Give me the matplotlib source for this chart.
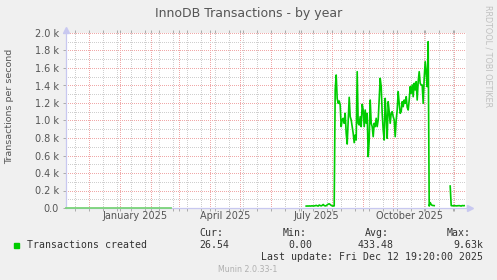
import pandas as pd
import matplotlib
matplotlib.use("Agg")
import matplotlib.pyplot as plt
import matplotlib.dates as mdates
import matplotlib.transforms as mtransforms
from matplotlib.ticker import FuncFormatter, MultipleLocator, FixedLocator

W, H = 497, 280

# munin "by year" graph = the last 400 days
end_time = pd.Timestamp("2025-12-12 19:20")
start_time = end_time - pd.Timedelta(days=400)

# first stretch: counter sat at zero
zero_dates = ["2024-11-07 19:20", "2025-02-21 00:00"]
zero_values = [0, 0]

# main stretch, one value per day starting here
main_start = "2025-07-06"
main_values = [22, 23, 22, 24, 22, 23, 25, 22, 24, 26, 30, 25, 22, 34, 28,
               24, 30, 40, 28, 24, 26, 36, 44, 48, 40, 30, 24, 22, 24,
               1350,
               1520, 1250, 1196, 1223, 1177, 930, 1006, 1025, 968, 1082,
               853, 731, 1006, 1265, 1044, 1006, 930, 853, 747, 834,
               777, 1558, 968, 949, 1044, 930, 1185, 1120, 930, 1120,
               968, 1082, 587, 777, 1234, 968, 930, 815, 968, 930,
               1025, 930, 1006, 1234, 1482, 1387, 1082, 891, 777, 1253,
               1044, 796, 1215, 1101, 968, 1082, 1101, 1044, 1006, 815,
               1006, 1120, 1330, 1196, 1082, 1101, 1215, 1158, 1234, 1196,
               1272, 1150, 1120, 1234, 1387, 1311, 1406, 1272, 1425, 1349,
               1444, 1234, 1444, 1558, 1425, 1406, 1406, 1196, 1482, 1672,
               1539, 1387, 1901,
               22, 62, 40, 30, 28, 27]

# last stretch after the gap
tail_start = "2025-11-27"
tail_values = [251, 27, 26, 25, 27, 26, 24, 25, 26, 27, 25, 22, 28, 26, 27]

month_labels = ["January 2025", "April 2025", "July 2025", "October 2025"]
month_label_dates = ["2025-01-16", "2025-04-16", "2025-07-16", "2025-10-17"]

stat_names = ["Cur:", "Min:", "Avg:", "Max:"]
stat_values = ["26.54", "0.00", "433.48", "9.63k"]

GREEN = "#00cc00"
BG = "#f0f0f0"
AXIS = "#c8c8f0"


def px(x, y):
    # pixel position (from top-left) -> figure fraction
    return x / W, 1 - y / H


fig = plt.figure(figsize=(W / 100, H / 100), dpi=100, facecolor=BG)
ax = fig.add_axes([66 / W, 72 / H, 400 / W, 175 / H])
ax.set_facecolor("white")

main_dates = pd.date_range(main_start, periods=len(main_values), freq="D")
tail_dates = pd.date_range(tail_start, periods=len(tail_values), freq="D")

ax.plot(pd.to_datetime(zero_dates), zero_values, color="#7ad47a", lw=1.3,
        zorder=5, clip_on=False)
ax.plot(main_dates, main_values, color=GREEN, lw=1.2, zorder=3)
ax.plot(tail_dates, tail_values, color=GREEN, lw=1.2, zorder=3)

ax.set_xlim(start_time, end_time)
ax.set_ylim(0, 2000)

# grid: red every month / 200, grey every two weeks / 100
ax.xaxis.set_major_locator(mdates.MonthLocator())
biweekly = pd.date_range("2024-11-17", end_time, freq="14D")
ax.xaxis.set_minor_locator(FixedLocator(mdates.date2num(biweekly)))
ax.yaxis.set_major_locator(MultipleLocator(200))
ax.yaxis.set_minor_locator(FixedLocator(range(100, 2000, 200)))
ax.xaxis.set_major_formatter(FuncFormatter(lambda v, p: ""))
ax.yaxis.set_major_formatter(
    FuncFormatter(lambda v, p: "0.0" if v == 0 else f"{v / 1000:.1f} k"))

ax.grid(which="minor", color="#cfcfcf", lw=0.72, ls=(0, (1, 2)),
        antialiased=False, zorder=1)
ax.grid(which="major", color="#f0a8a8", lw=0.72, ls=(0, (1, 2)),
        antialiased=False, zorder=2)
ax.set_axisbelow(True)

ax.tick_params(axis="x", which="both", direction="out", length=2, width=0.7,
               color="#aaaaaa", top=True)
ax.tick_params(axis="y", which="major", direction="out", length=2, width=0.7,
               color="#aaaaaa", labelsize=7, labelcolor="#555555", pad=3)
ax.tick_params(axis="y", which="minor", length=0)

for s in ["top", "right"]:
    ax.spines[s].set_visible(False)
for s in ["left", "bottom"]:
    ax.spines[s].set_color(AXIS)
    ax.spines[s].set_linewidth(0.9)
    ax.spines[s].set_zorder(4)

# axis arrows
up = mtransforms.offset_copy(ax.transAxes, fig=fig, y=3.5, units="dots")
ax.plot([0], [1], marker="^", ms=4, color=AXIS, transform=up, clip_on=False)
right = mtransforms.offset_copy(ax.transAxes, fig=fig, x=3.5, units="dots")
ax.plot([1], [0], marker=">", ms=4, color=AXIS, transform=right, clip_on=False)

# quarter labels sit in the middle of their month
for lab, d in zip(month_labels, month_label_dates):
    ax.text(pd.Timestamp(d), -0.045, lab, transform=ax.get_xaxis_transform(),
            ha="center", va="center", fontsize=7, color="#555555")

fig.text(*px(248.5, 13), "InnoDB Transactions - by year", ha="center",
         va="center", fontsize=9, color="#555555")
fig.text(*px(10, 106), "Transactions per second", rotation=90, ha="center",
         va="center", fontsize=6.8, color="#555555")
fig.text(*px(488, 56), "RRDTOOL / TOBI OETIKER", rotation=270, ha="center",
         va="center", fontsize=5.8, color="#c0c0c0")

mono = dict(family="DejaVu Sans Mono", fontsize=7.15, color="#333333",
            va="center")
fig.patches.append(plt.Rectangle(px(14, 247.5), 5 / W, 5 / H,
                                 transform=fig.transFigure, color=GREEN))
fig.text(*px(27, 245), "Transactions created", ha="left", **mono)

head_x = [199, 283, 365, 447]
val_x = [199, 312, 394, 483]
val_ha = ["left", "right", "right", "right"]
for name, hx in zip(stat_names, head_x):
    fig.text(*px(hx, 233.5), name, ha="left", **mono)
for val, vx, ha in zip(stat_values, val_x, val_ha):
    fig.text(*px(vx, 245), val, ha=ha, **mono)
fig.text(*px(483, 257), "Last update: Fri Dec 12 19:20:00 2025", ha="right",
         **mono)
fig.text(*px(248, 269.5), "Munin 2.0.33-1", ha="center", va="center",
         fontsize=5.7, color="#b0b0b0")

fig.savefig("out.png", dpi=100, facecolor=BG)
